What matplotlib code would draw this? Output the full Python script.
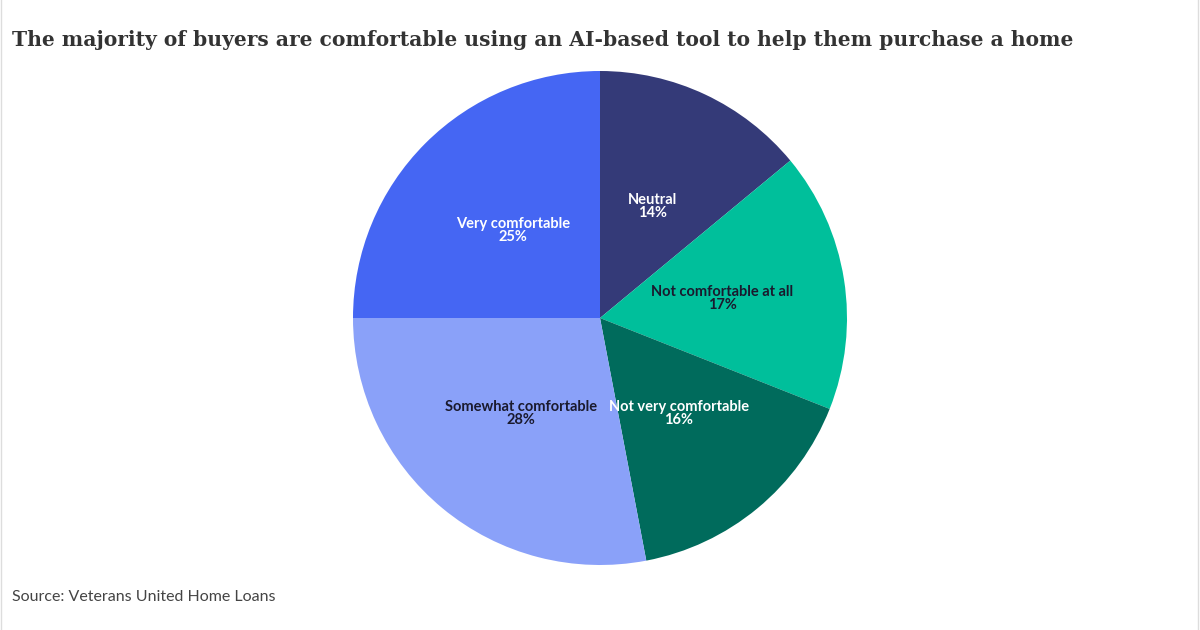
import matplotlib.pyplot as plt

labels = ['Neutral', 'Not comfortable at all', 'Not very comfortable',
          'Somewhat comfortable', 'Very comfortable']
shares = [14, 17, 16, 28, 25]
colors = ['#343a78', '#00bf9b', '#006b5c', '#8aa1f9', '#4566f3']
text_colors = ['white', '#1a1a2e', 'white', '#1a1a2e', 'white']

fig = plt.figure(figsize=(12, 6.3), dpi=100)

# pie centred at (600, 318) px with radius ~247 px
cx, cy, r = 600 / 1200, 1 - 318 / 630, 247
ax = fig.add_axes([cx - r / 1200, cy - r / 630, 2 * r / 1200, 2 * r / 630])

wedges, texts = ax.pie(shares, colors=colors, startangle=90, counterclock=False,
                       radius=1, labels=[f'{l}\n{s}%' for l, s in zip(labels, shares)],
                       labeldistance=0.5, wedgeprops=dict(linewidth=0))
for t, c in zip(texts, text_colors):
    t.set_color(c)
    t.set_fontsize(10.5)
    t.set_fontweight('bold')
    t.set_fontfamily('Lato')
    t.set_ha('center')
    t.set_va('center')
    t.set_linespacing(0.9)
ax.set_xlim(-1, 1)
ax.set_ylim(-1, 1)

fig.text(12 / 1200, 1 - 40 / 630,
         'The majority of buyers are comfortable using an AI-based tool to help them purchase a home',
         fontsize=14.6, fontweight='bold', family='DejaVu Serif', color='#333333',
         ha='left', va='center')
fig.text(12 / 1200, 1 - 597 / 630, 'Source: Veterans United Home Loans',
         fontsize=11.5, family='Lato', color='#444444', ha='left', va='center')

# thin frame lines at the left and right edges
fig.add_artist(plt.Line2D([0.001, 0.001], [0, 1], color='#dddddd', linewidth=1))
fig.add_artist(plt.Line2D([0.998, 0.998], [0, 1], color='#dddddd', linewidth=1))

fig.savefig('out.png', dpi=100, facecolor='white')
